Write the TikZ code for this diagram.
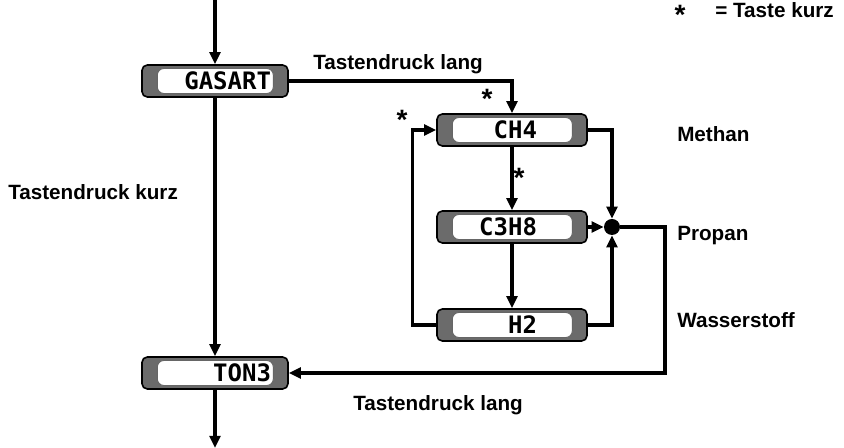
\documentclass[tikz,border=0pt]{standalone}
\usepackage{fontspec}
\setmainfont{Liberation Sans}
\newfontfamily\lcdfont{DejaVu Sans Mono}
\usetikzlibrary{arrows.meta}
\usetikzlibrary{calc}
\newcommand{\lcd}[2]{\makebox[#1][r]{#2}}
\newcommand{\retx}{665}
\newcommand{\labx}{677}
\tikzset{%
  lcd/.style={draw=black, line width=1.2pt, rounded corners=4pt,
    minimum width=#1, minimum height=24pt, inner sep=0pt,
    left color=black!58, middle color=white, right color=black!58,
    font={\lcdfont\bfseries\fontsize{18}{18}\selectfont},
    path picture={\draw[black!60, line width=0.7pt, fill=white, rounded corners=5pt]
      ([shift={(11.5pt,2.6pt)}]path picture bounding box.south west) rectangle
      ([shift={(-11pt,-2.6pt)}]path picture bounding box.north east);}},
  arr/.style={line width=2.3pt, -{Triangle[length=9pt,width=8pt]}},
  lbl/.style={font={\bfseries\fontsize{15.5}{18}\selectfont}, inner sep=0pt},
  star/.style={font={\bfseries\fontsize{21}{21}\selectfont}, inner sep=0pt}
}

\begin{document}
\begin{tikzpicture}[x=0.75pt, y=-0.75pt]
\useasboundingbox (0,0) rectangle (844,448);

% display boxes
\node[lcd=109.5pt] at (215, 81) (gasart) {\lcd{84pt}{GASART}};
\node[lcd=109.5pt] at (215,373) (ton) {\lcd{84pt}{TON3}};
\node[lcd=112.5pt] at (512,130) (ch) {\lcd{37.5pt}{CH4}};
\node[lcd=112.5pt] at (512,227) (ch8) {\lcd{37.5pt}{C3H8}};
\node[lcd=112.5pt] at (512,325) (hh) {\lcd{37.5pt}{H2}};
\node[circle, fill=black, minimum size=12pt, inner sep=0pt] at (612,227) (knot) {};

\coordinate (top) at (215,0);
\coordinate (bottom) at (215,448);
\coordinate (rturn) at (\retx,227);

% main column
\draw[arr] (top) -- (gasart);
\draw[arr] (gasart) -- (ton);
\draw[arr] (ton) -- (bottom);

% gas selection
\draw[arr] (gasart.east) -| (ch.north);
\draw[arr] (ch) -- (ch8);
\draw[arr] (ch8) -- (hh);
\draw[arr] (hh.west) -- ++(-24,0) |- (ch.west);
\draw[arr] (ch.east) -| (knot.north);
\draw[arr] (ch8.east) -- (knot.west);
\draw[arr] (hh.east) -| (knot.south);
\draw[arr] (knot) -- (rturn) |- (ton.east);

% labels
\node[lbl, anchor=base west] at (313,70) (langA) {Tastendruck lang};
\node[lbl, anchor=base west] at (8,200) (kurz) {Tastendruck kurz};
\node[lbl, anchor=base west] at (353,411) (langB) {Tastendruck lang};
\node[lbl, anchor=base west] at (\labx,142) (methan) {Methan};
\node[lbl, anchor=base west] at (\labx,241) (propan) {Propan};
\node[lbl, anchor=base west] at (\labx,328) (wasser) {Wasserstoff};

% stars
\node[star] at (487,99) (starA) {*};
\node[star] at (402,120) (starB) {*};
\node[star] at (519,178) (starC) {*};
\node[star] at (680,15) (starL) {*};
\node[lbl, anchor=base west] at (715,18) (legend) {= Taste kurz};

\end{tikzpicture}
\end{document}
